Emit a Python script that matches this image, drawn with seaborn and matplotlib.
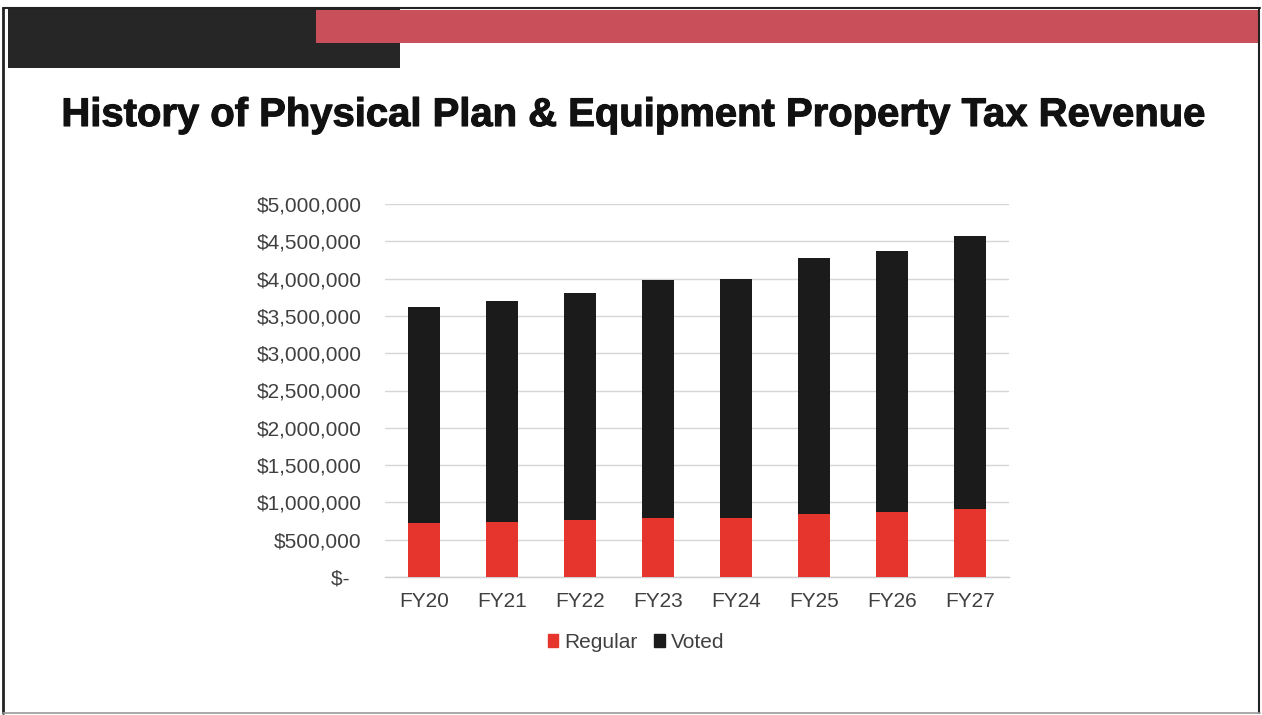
import matplotlib
matplotlib.use("Agg")
import matplotlib.pyplot as plt
from matplotlib.patches import Rectangle
from matplotlib.lines import Line2D
import matplotlib.patheffects as pe
import seaborn as sns
import pandas as pd

# Fiscal years and revenue components (USD)
years = ["FY20", "FY21", "FY22", "FY23", "FY24", "FY25", "FY26", "FY27"]
regular = [730000, 740000, 760000, 790000, 790000, 840000, 870000, 910000]
voted = [2890000, 2960000, 3050000, 3190000, 3210000, 3430000, 3500000, 3660000]
y_ticks = [0, 500000, 1000000, 1500000, 2000000, 2500000, 3000000, 3500000, 4000000, 4500000, 5000000]

title = "History of Physical Plan & Equipment Property Tax Revenue"

RED = "#e6352d"
BLACK = "#1b1b1b"
BANNER_RED = "#c9505a"
BANNER_BLACK = "#262626"
TEXT_GRAY = "#404040"

sns.set_theme(style="white")
plt.rcParams["font.family"] = ["Liberation Sans", "DejaVu Sans"]

df = pd.DataFrame({"year": years, "regular": regular, "voted": voted})
df["total"] = df["regular"] + df["voted"]

W, H = 1262, 715
fig = plt.figure(figsize=(W / 100, H / 100), dpi=100)
fig.patch.set_facecolor("white")

# Slide frame and header banner, in pixel coordinates
bg = fig.add_axes([0, 0, 1, 1])
bg.set_xlim(0, W)
bg.set_ylim(H, 0)
bg.axis("off")
bg.add_patch(Rectangle((8, 9), 392, 59, color=BANNER_BLACK, lw=0))
bg.add_patch(Rectangle((316, 10), 944, 33, color=BANNER_RED, lw=0))
bg.add_line(Line2D([3, 3], [8, 713], color="#222222", lw=2))
bg.add_line(Line2D([1259, 1259], [8, 713], color="#222222", lw=1.5))
bg.add_line(Line2D([3, 1260], [7.5, 7.5], color="#222222", lw=1.5))
bg.add_line(Line2D([3, 1260], [713, 713], color="#9a9a9a", lw=1.2))
bg.text(633, 115, title, ha="center", va="center", fontsize=28.8,
        fontweight="bold", color="#111111",
        path_effects=[pe.withStroke(linewidth=0.8, foreground="#111111")])

# Chart area
left, right = 385 / W, 1009 / W
top, bottom = 204 / H, 577 / H
ax = fig.add_axes([left, 1 - bottom, right - left, bottom - top])

sns.barplot(data=df, x="year", y="total", color=BLACK, width=0.4,
            saturation=1, ax=ax, zorder=3, linewidth=0)
sns.barplot(data=df, x="year", y="regular", color=RED, width=0.4,
            saturation=1, ax=ax, zorder=4, linewidth=0)

ax.set_ylim(0, 5000000)
ax.set_xlim(-0.5, len(years) - 0.5)
ax.set_yticks(y_ticks)
ax.set_yticklabels(["$-  " if v == 0 else f"${v:,.0f}" for v in y_ticks])
ax.yaxis.grid(True, color="#d6d6d6", lw=1)
ax.set_axisbelow(True)
for s in ["left", "right", "top"]:
    ax.spines[s].set_visible(False)
ax.spines["bottom"].set_color("#cfcfcf")
ax.spines["bottom"].set_linewidth(1)
ax.set_xlabel("")
ax.set_ylabel("")
ax.tick_params(axis="y", length=0, pad=17, labelsize=15, labelcolor=TEXT_GRAY)
ax.tick_params(axis="x", length=0, pad=11, labelsize=15, labelcolor=TEXT_GRAY)
ax.set_facecolor("white")

# Legend centred under the whole chart block (labels included)
handles = [Rectangle((0, 0), 1, 1, color=RED), Rectangle((0, 0), 1, 1, color=BLACK)]
fig.legend(handles, ["Regular", "Voted"], loc="center",
           bbox_to_anchor=(636 / W, 1 - 642 / H),
           ncol=2, frameon=False, fontsize=15, handlelength=0.5, handleheight=0.6,
           handletextpad=0.3, columnspacing=0.8, labelcolor=TEXT_GRAY)

fig.savefig("out.png", dpi=100, facecolor="white")
